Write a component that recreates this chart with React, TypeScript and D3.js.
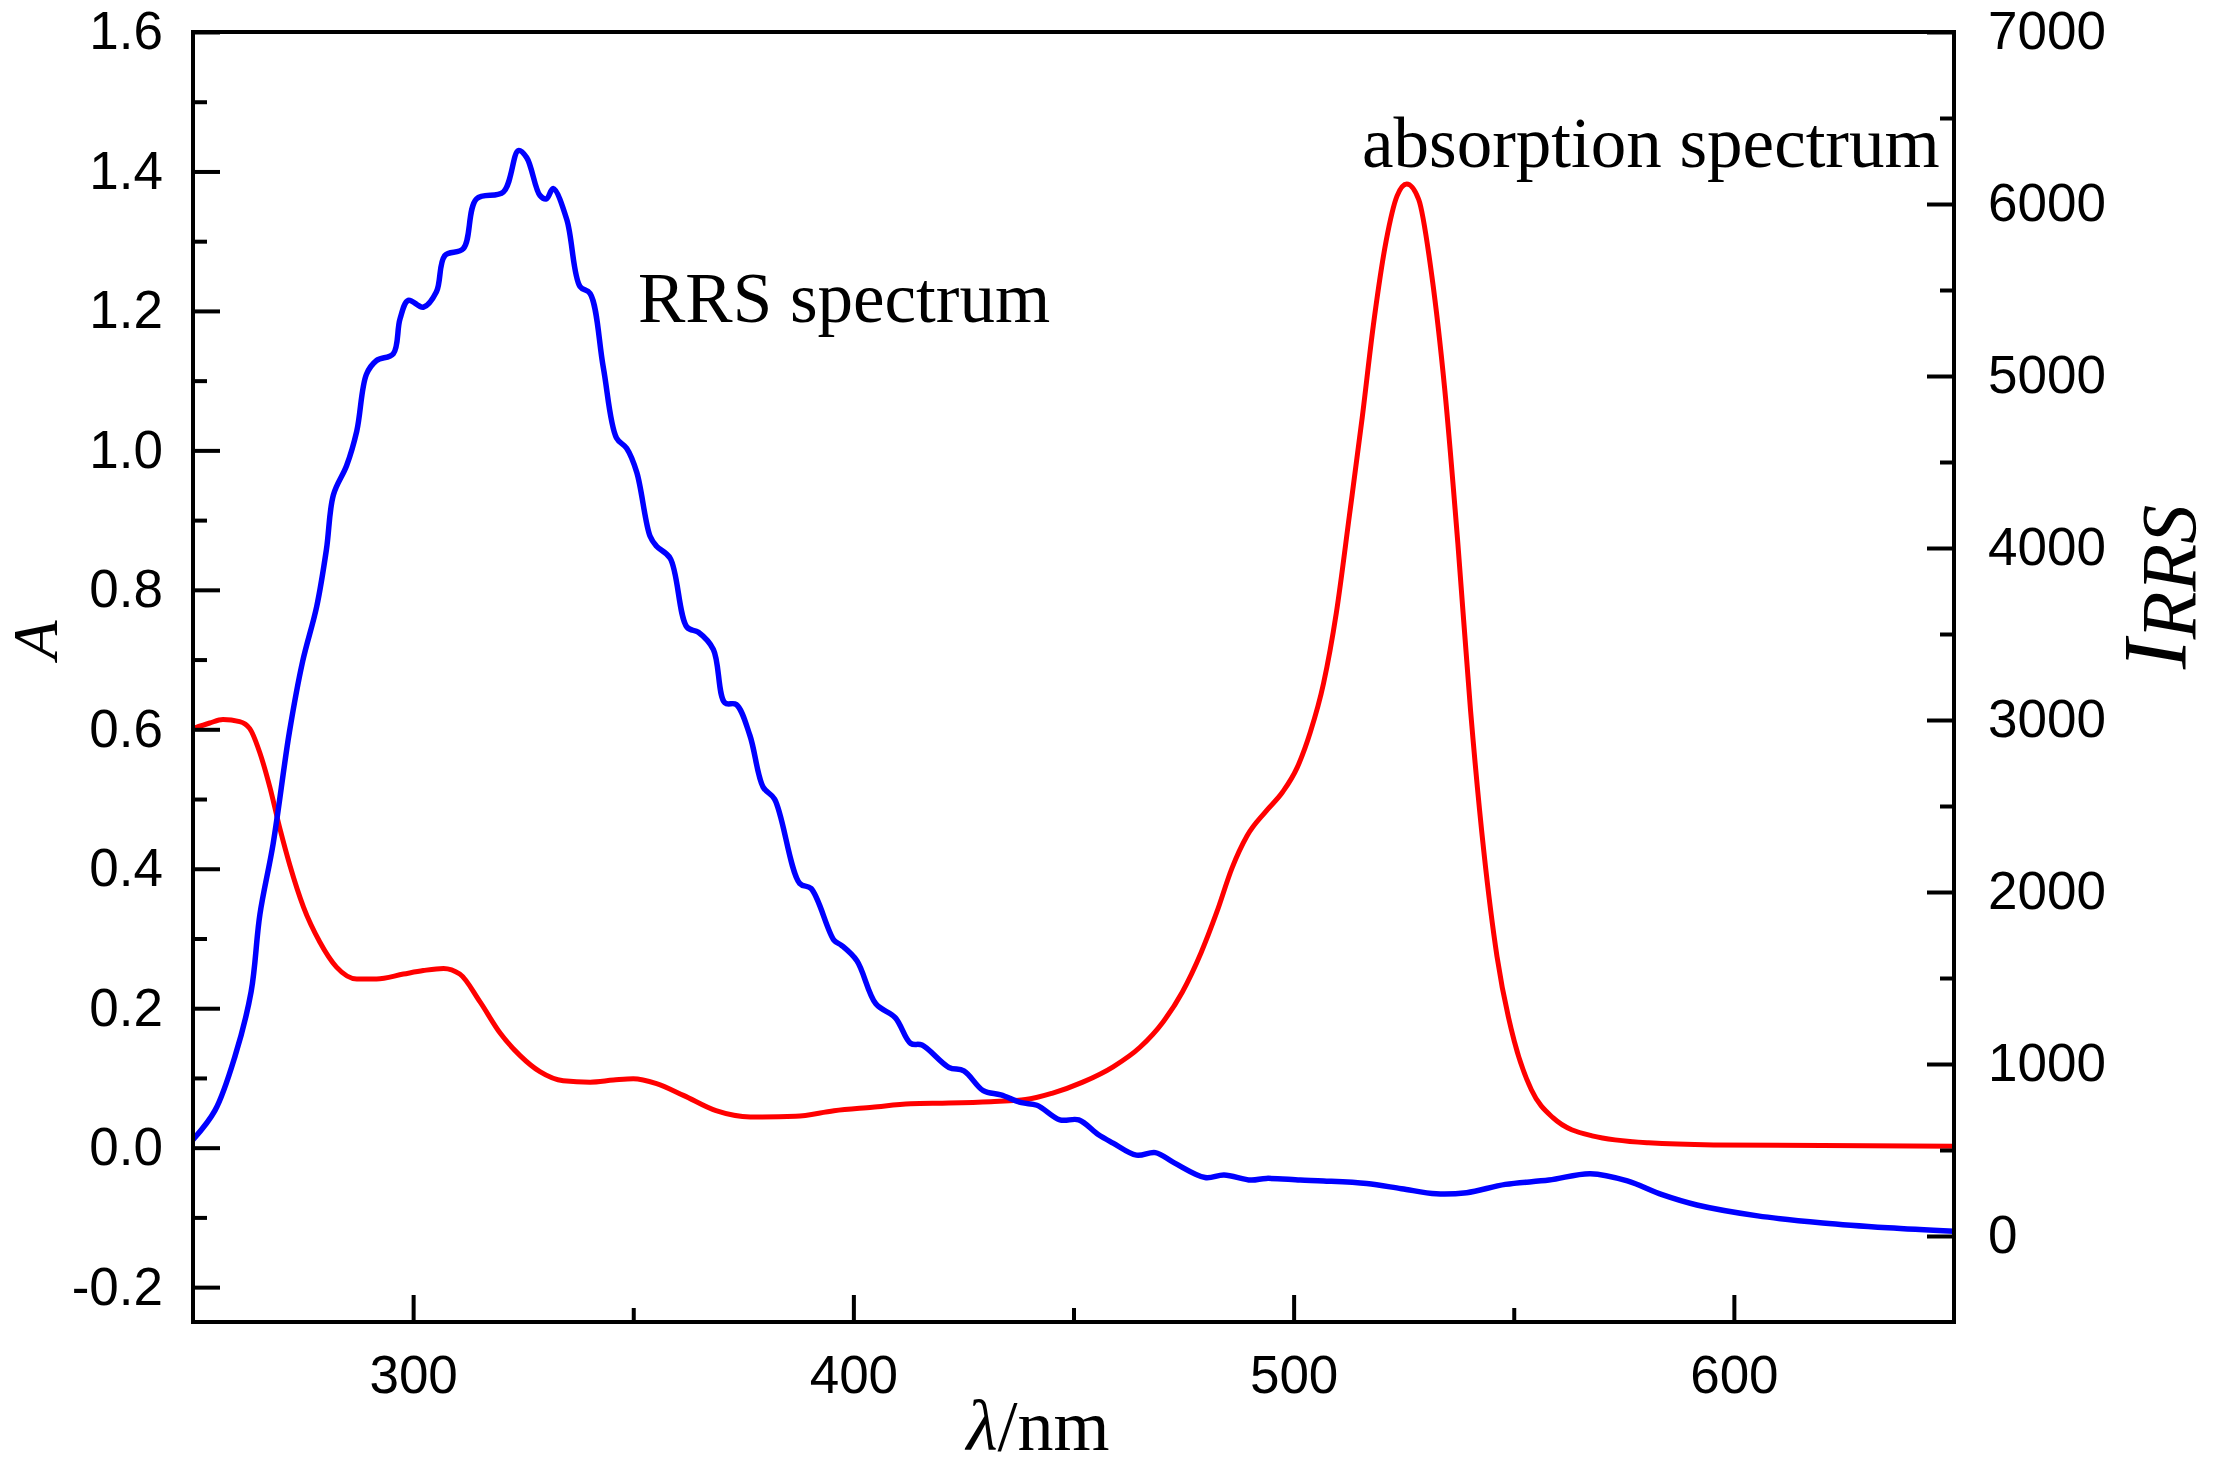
import { useRef, useEffect } from 'react';
import * as d3 from 'd3';

// RRS spectrum (right axis)
const rrsWavelength = [
  250, 255, 259.6, 263.2, 265.2, 268.2, 271.9, 274.9, 278.1, 280.3, 281.9, 284.9, 287.2, 289.4,
  291.7, 295.5, 297, 298.9, 302.3, 305.3, 307.2, 311.4, 314.4, 320.5, 323.9, 325.8, 328.8, 330.3,
  331.8, 334.9, 337.9, 340.2, 343.2, 346.2, 348.5, 350.8, 353.8, 355.3, 358.4, 362.2, 364.8, 368.2,
  370.8, 373.4, 376.5, 379.5, 382.1, 387.8, 390.4, 395.6, 397.3, 400.8, 405.1, 409.5, 413, 415.6,
  421.7, 425.1, 429.5, 433.5, 438.2, 441.7, 446.9, 451.2, 455.6, 459, 464.3, 468.6, 472.9, 479.9,
  484.2, 490.3, 493.8, 501.5, 506.8, 516.6, 524.5, 532.4, 539.3, 548.1, 558, 567.4, 575.8, 583.7,
  591.6, 605.4, 620.2, 635, 650
];
const rrsIntensity = [
  560, 730, 1050, 1420, 1870, 2280, 2930, 3340, 3660, 3990, 4310, 4480, 4680, 5010,
  5090, 5130, 5330, 5440, 5400, 5490, 5700, 5740, 6030, 6070, 6310, 6270, 6050, 6030,
  6090, 5910, 5520, 5480, 5050, 4640, 4580, 4440, 4070, 4010, 3940, 3540, 3510, 3410,
  3100, 3090, 2910, 2610, 2540, 2050, 2020, 1720, 1690, 1600, 1350, 1270, 1120, 1110,
  980, 960, 845, 820, 775, 760, 675, 675, 590, 540, 470, 485, 425, 340,
  355, 325, 335, 325, 320, 305, 275, 245, 252, 300, 325, 362, 320, 240,
  180, 117, 76, 48, 27
];

// absorption spectrum (left axis)
const absWavelength = [
  250, 253.8, 256.8, 260.6, 262.9, 265.2, 267.5, 269.8, 272, 275.1, 278.8, 282.6, 287.2, 291.7,
  297.8, 302.3, 306.9, 310.6, 315.2, 319.8, 324.3, 328.8, 334.1, 340.2, 345.5, 350, 355.3, 361.4,
  368.8, 376.6, 386.9, 395.6, 404.3, 413, 421.7, 431.2, 439.1, 445.1, 452.1, 459, 465.1, 470.3,
  474.7, 479, 482.5, 486, 489.4, 493.8, 497.5, 500.8, 503.8, 506.8, 509.7, 512.7, 515.6, 518.1,
  521, 523.5, 525.7, 528.4, 531.4, 534.3, 537.3, 540.2, 543.2, 546.2, 550.1, 554, 558.9, 567.8,
  580.6, 595.4, 650
];
const absorbance = [
  0.601, 0.609, 0.614, 0.611, 0.601, 0.566, 0.516, 0.456, 0.405, 0.345, 0.295, 0.259, 0.242, 0.242,
  0.249, 0.254, 0.257, 0.249, 0.209, 0.164, 0.132, 0.109, 0.096, 0.094, 0.097, 0.099, 0.092, 0.075,
  0.053, 0.044, 0.045, 0.053, 0.058, 0.063, 0.064, 0.066, 0.069, 0.078, 0.094, 0.116, 0.144, 0.18,
  0.223, 0.28, 0.337, 0.401, 0.447, 0.483, 0.51, 0.545, 0.596, 0.666, 0.767, 0.908, 1.048, 1.179,
  1.3, 1.365, 1.382, 1.36, 1.25, 1.089, 0.867, 0.626, 0.425, 0.274, 0.153, 0.083, 0.043, 0.017,
  0.007, 0.004, 0.002
];

const xMajorTicks = [300, 400, 500, 600];
const xMinorTicks = [350, 450, 550];
const leftMajorTicks = [-0.2, 0, 0.2, 0.4, 0.6, 0.8, 1.0, 1.2, 1.4, 1.6];
const leftMinorTicks = [-0.1, 0.1, 0.3, 0.5, 0.7, 0.9, 1.1, 1.3, 1.5];
const rightMajorTicks = [0, 1000, 2000, 3000, 4000, 5000, 6000, 7000];
const rightMinorTicks = [500, 1500, 2500, 3500, 4500, 5500, 6500];

const App = () => {
  const svgRef = useRef<SVGSVGElement>(null);
  const width = 2217;
  const height = 1468;

  useEffect(() => {
    if (!svgRef.current) return;
    const svg = d3.select(svgRef.current);
    svg.selectAll('*').remove();

    const margin = { top: 32, right: 263, bottom: 146, left: 193 };
    const innerW = width - margin.left - margin.right;
    const innerH = height - margin.top - margin.bottom;

    const x = d3.scaleLinear().domain([250, 650]).range([0, innerW]);
    const yA = d3.scaleLinear().domain([-0.25, 1.6]).range([innerH, 0]);
    const yI = d3.scaleLinear().domain([-500, 7000]).range([innerH, 0]);

    const g = svg.append('g').attr('transform', `translate(${margin.left},${margin.top})`);

    const sans = "'Liberation Sans', Arial, sans-serif";
    const serif = "'Liberation Serif', 'Times New Roman', serif";
    const majorLen = 27;
    const minorLen = 14;

    // clip for curves
    svg.append('defs').append('clipPath').attr('id', 'plotClip')
      .append('rect').attr('width', innerW).attr('height', innerH);

    // absorption curve
    const absLine = d3.line<number>()
      .x((d, i) => x(absWavelength[i]))
      .y(d => yA(d))
      .curve(d3.curveMonotoneX);
    g.append('path')
      .datum(absorbance)
      .attr('clip-path', 'url(#plotClip)')
      .attr('d', absLine)
      .attr('fill', 'none')
      .attr('stroke', '#ff0000')
      .attr('stroke-width', 5);

    // RRS curve
    const rrsLine = d3.line<number>()
      .x((d, i) => x(rrsWavelength[i]))
      .y(d => yI(d))
      .curve(d3.curveCatmullRom.alpha(0.5));
    g.append('path')
      .datum(rrsIntensity)
      .attr('clip-path', 'url(#plotClip)')
      .attr('d', rrsLine)
      .attr('fill', 'none')
      .attr('stroke', '#0000ff')
      .attr('stroke-width', 5.5)
      .attr('stroke-linejoin', 'round');

    // axes
    const styleAxis = (sel: d3.Selection<SVGGElement, unknown, null, undefined>) => {
      sel.select('.domain').remove();
      sel.selectAll('.tick line').attr('stroke', '#000').attr('stroke-width', 4);
      sel.selectAll('.tick text')
        .attr('font-family', sans)
        .attr('font-size', 53)
        .attr('fill', '#000');
    };

    g.append('g')
      .call(d3.axisLeft(yA).tickValues(leftMajorTicks).tickSize(-majorLen).tickPadding(30)
        .tickFormat(d => (+d).toFixed(1)))
      .call(styleAxis);
    g.append('g')
      .call(d3.axisLeft(yA).tickValues(leftMinorTicks).tickSize(-minorLen).tickFormat(() => ''))
      .call(styleAxis);

    g.append('g')
      .attr('transform', `translate(${innerW},0)`)
      .call(d3.axisRight(yI).tickValues(rightMajorTicks).tickSize(-majorLen).tickPadding(34)
        .tickFormat(d => String(d)))
      .call(styleAxis);
    g.append('g')
      .attr('transform', `translate(${innerW},0)`)
      .call(d3.axisRight(yI).tickValues(rightMinorTicks).tickSize(-minorLen).tickFormat(() => ''))
      .call(styleAxis);

    g.append('g')
      .attr('transform', `translate(0,${innerH})`)
      .call(d3.axisBottom(x).tickValues(xMajorTicks).tickSize(-majorLen).tickPadding(33)
        .tickFormat(d => String(d)))
      .call(styleAxis);
    g.append('g')
      .attr('transform', `translate(0,${innerH})`)
      .call(d3.axisBottom(x).tickValues(xMinorTicks).tickSize(-minorLen).tickFormat(() => ''))
      .call(styleAxis);

    // frame
    g.append('rect')
      .attr('width', innerW)
      .attr('height', innerH)
      .attr('fill', 'none')
      .attr('stroke', '#000')
      .attr('stroke-width', 4);

    // annotations
    svg.append('text')
      .attr('x', 638)
      .attr('y', 322)
      .attr('font-family', serif)
      .attr('font-size', 71)
      .attr('fill', '#000')
      .text('RRS spectrum');
    svg.append('text')
      .attr('x', 1362)
      .attr('y', 167)
      .attr('font-family', serif)
      .attr('font-size', 71)
      .attr('fill', '#000')
      .text('absorption spectrum');

    // axis titles
    const xt = svg.append('text')
      .attr('x', 1038)
      .attr('y', 1450)
      .attr('text-anchor', 'middle')
      .attr('font-family', serif)
      .attr('font-size', 72)
      .attr('fill', '#000');
    xt.append('tspan').attr('font-style', 'italic').text('λ');
    xt.append('tspan').text('/nm');

    svg.append('text')
      .attr('transform', 'translate(57,640) rotate(-90)')
      .attr('text-anchor', 'middle')
      .attr('font-family', serif)
      .attr('font-style', 'italic')
      .attr('font-size', 64)
      .attr('fill', '#000')
      .text('A');

    const yt = svg.append('text')
      .attr('transform', 'translate(2186,587) rotate(-90)')
      .attr('text-anchor', 'middle')
      .attr('font-family', serif)
      .attr('font-style', 'italic')
      .attr('fill', '#000');
    yt.append('tspan').attr('font-size', 90).text('I');
    yt.append('tspan').attr('font-size', 78).attr('dy', 9).text('RRS');
  }, []);

  return (
    <svg
      ref={svgRef}
      width={width}
      height={height}
      style={{ position: 'absolute', left: 0, top: 0, background: '#fff' }}
    />
  );
};

export default App;
